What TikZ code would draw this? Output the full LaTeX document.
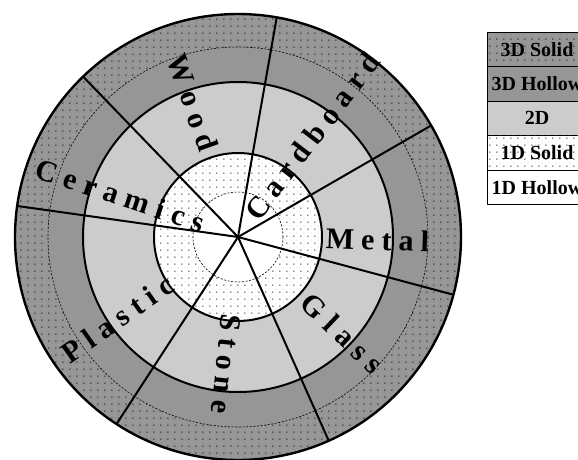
\documentclass[tikz,border=0pt]{standalone}
\usepackage{fontspec}
\setmainfont{Liberation Serif}
\usetikzlibrary{patterns.meta,positioning}

\definecolor{vongdam}{gray}{0.59}
\definecolor{vongnhat}{gray}{0.8}
\definecolor{hatxam}{gray}{0.75}

\tikzdeclarepattern{
	name=chamhat, type=colored,
	bottom left={(-1pt,-1pt)}, top right={(6pt,6pt)},
	tile size={(7pt,7pt)},
	code={
		\tikzset{x=1pt,y=1pt}
		\fill[black] (-.45,-.45) rectangle (.45,.45);
		\fill[hatxam] (3,3) rectangle (4,4);
	}
}

\begin{document}
\begin{tikzpicture}[x=1pt, y=1pt, line join=round,
	vien/.style={line width=2pt},
	netdut/.style={dash pattern=on 2pt off 1.6pt, line width=0.6pt},
	chu/.style={font=\fontsize{30}{30}\selectfont\bfseries, inner sep=0pt, text height=16pt, text depth=0pt},
	ochu/.style={draw, line width=0.6pt, minimum width=100pt, minimum height=34.5pt, inner sep=0pt, outer sep=0pt, font=\fontsize{20}{20}\selectfont\bfseries}]
	\useasboundingbox (-238,-222) rectangle (340,237);

	% Các vòng tròn
	\coordinate (O) at (0,0);
	\fill[vongdam, postaction={pattern=chamhat}] (O) circle (223);
	\fill[vongdam] (O) circle (190);
	\draw[netdut] (O) circle (190);
	\fill[vongnhat] (O) circle (155);
	\draw[vien] (O) circle (155);
	\fill[white, postaction={pattern=chamhat}] (O) circle (84);
	\draw[vien] (O) circle (84);
	\fill[white] (O) circle (45);
	\draw[netdut] (O) circle (45);

	% Các nan chia
	\foreach \g in {80, 30, -15, -66, -123, 172, 134}
		\draw[vien] (O) -- (\g:223);
	\draw[line width=2.4pt] (O) circle (223);

	% Tên vật liệu (chữ/bán kính)
	\foreach \ten/\g/\q/\tu in {
		card/52.5/52.5/{C/35,a/60.7,r/82.2,d/104.6,b/128.6,o/151.8,a/174.2,r/195.7,d/218},
		metal/-2/-2/{M/102,e/129.9,t/148.7,a/168.3,l/187},
		glass/-43.5/-43.5/{G/103,l/126.7,a/146.3,s/167.5,s/187.1},
		stone/-96/-96/{S/86,t/106.4,o/126,n/148.9,e/171},
		plastic/215/35/{P/201,l/180.2,a/161.1,s/140.3,t/122,i/105.3,c/87},
		ceram/161.5/-18.5/{C/202,e/176.8,r/155.8,a/133.9,m/106.2,i/81.8,c/63.3,s/43.1},
		wood/109.5/-70.5/{W/177,o/146.6,o/123.7,d/100}}
		\foreach \c/\r [count=\i] in \tu
			\node[chu, rotate=\q] (\ten-\i) at (\g:\r) {\c};

	% Chú thích
	\node[ochu, fill=vongdam, postaction={pattern=chamhat}, anchor=north west] (l1) at (249,205) {3D Solid};
	\node[ochu, fill=vongdam, below=0pt of l1] (l2) {3D Hollow};
	\node[ochu, fill=vongnhat, below=0pt of l2] (l3) {2D};
	\node[ochu, fill=white, postaction={pattern=chamhat}, below=0pt of l3] (l4) {1D Solid};
	\node[ochu, fill=white, below=0pt of l4] (l5) {1D Hollow};
\end{tikzpicture}
\end{document}
